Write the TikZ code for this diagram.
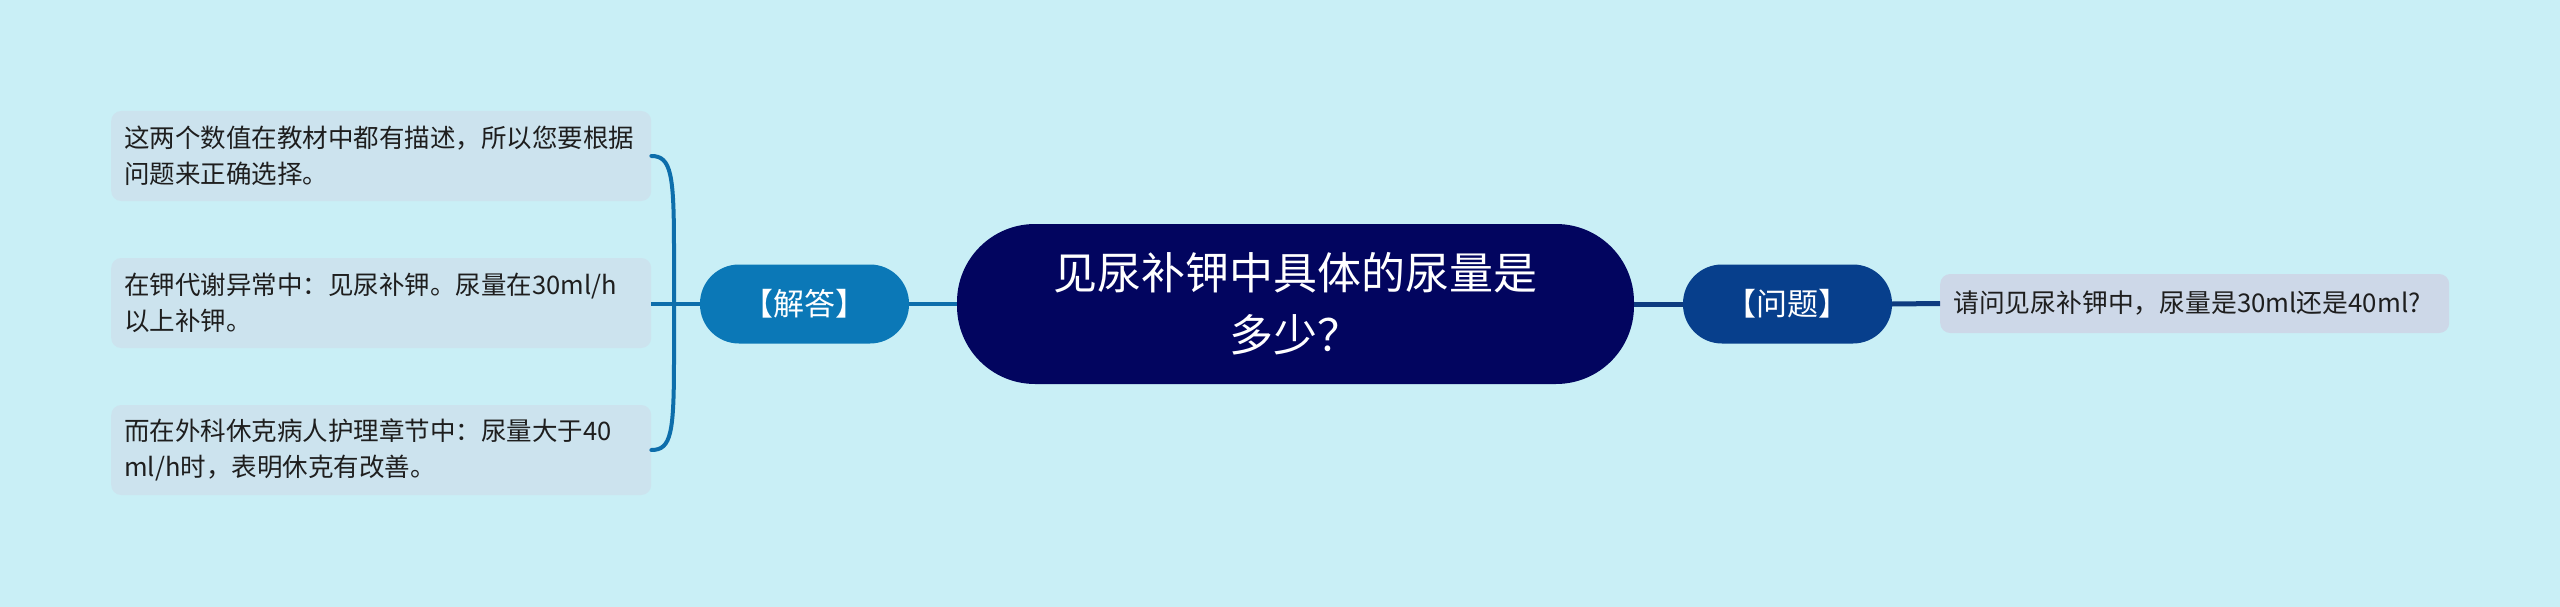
\documentclass[tikz,border=0pt]{standalone}
\usepackage{fontspec}
\setmainfont{Noto Sans CJK SC}
\usetikzlibrary{calc}
\definecolor{bgc}{HTML}{C9EFF6}
\definecolor{rootc}{HTML}{02055F}
\definecolor{ansc}{HTML}{0B78B7}
\definecolor{qc}{HTML}{073F8C}
\definecolor{llinec}{HTML}{0D6EAB}
\definecolor{rlinec}{HTML}{0E3C80}
\definecolor{leafl}{HTML}{CCE3EE}
\definecolor{leafr}{HTML}{CDD8E8}
\definecolor{txt}{HTML}{1E1E1E}
\begin{document}
\begin{tikzpicture}[x=1pt,y=-1pt,
  rootbox/.style={fill=rootc,text=white,rounded corners=78pt,minimum width=677pt,minimum height=160pt,align=center,inner sep=0pt,font=\fontsize{44}{62}\selectfont},
  midbox/.style={text=white,rounded corners=39pt,minimum width=209pt,minimum height=79pt,inner sep=0pt,font=\fontsize{31}{36}\selectfont},
  leafbox/.style={fill=leafl,text=txt,rounded corners=10pt,text width=514pt,inner xsep=13pt,inner ysep=0pt,minimum height=90pt,align=left,font=\fontsize{25.5}{36}\selectfont},
  rleafbox/.style={fill=leafr,text=txt,rounded corners=10pt,text width=483pt,inner xsep=13pt,inner ysep=0pt,minimum height=59pt,align=left,font=\fontsize{25.8}{36}\selectfont},
  lline/.style={draw=llinec,line width=4pt},
  rline/.style={draw=rlinec,line width=5pt}]
\fill[bgc] (0,0) rectangle (2560,607);
\useasboundingbox (0,0) rectangle (2560,607);

\node[rootbox] (root) at (1295.5,304) {见尿补钾中具体的尿量是\\多少？};
\node[midbox,fill=ansc] (ans) at (804.5,304) {【解答】};
\node[midbox,fill=qc] (q) at (1787.5,304) {【问题】};

\node[leafbox,anchor=west] (l1) at (111,156) {这两个数值在教材中都有描述，所以您要根据\\问题来正确选择。};
\node[leafbox,anchor=west] (l2) at (111,303) {在钾代谢异常中：见尿补钾。尿量在30ml/h\\以上补钾。};
\node[leafbox,anchor=west] (l3) at (111,450) {而在外科休克病人护理章节中：尿量大于40\\ml/h时，表明休克有改善。};
\node[rleafbox,anchor=west] (r1) at (1940,303.5) {请问见尿补钾中，尿量是30ml还是40ml?};

\coordinate (j) at (674,304);
\coordinate (jt) at (674,250);
\coordinate (jb) at (674,358);

\draw[lline] (root.west) -- (ans.east);
\draw[lline] (ans.west) -- (j) -- (l2.east |- j);
\draw[lline,line cap=round] (l1.east) .. controls +(20,0) and +(0,-75) .. (jt) -- (j);
\draw[lline,line cap=round] (l3.east) .. controls +(20,0) and +(0,75) .. (jb) -- (j);

\draw[rline] (root.east) -- (q.west);
\draw[rline] (q.east) -- (r1.west);
\end{tikzpicture}
\end{document}
